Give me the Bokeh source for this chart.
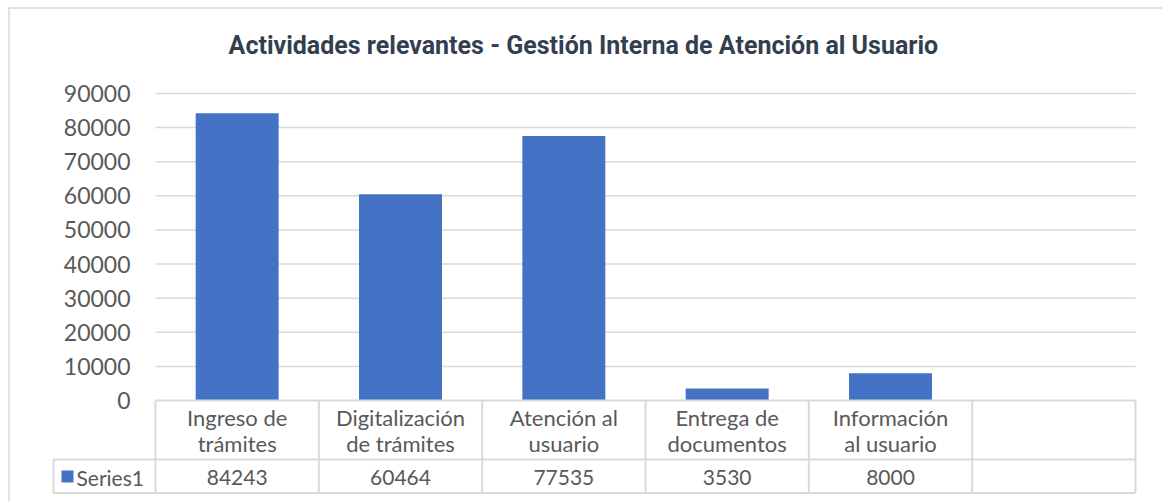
from bokeh.plotting import figure
from bokeh.models import ColumnDataSource, Range1d
from bokeh.core.properties import value
from bokeh.embed import file_html
from bokeh.resources import INLINE

# ---- data ----
title_text = "Actividades relevantes -  Gestión Interna de Atención al Usuario"
categories = ["Ingreso de\ntrámites", "Digitalización\nde trámites", "Atención al\nusuario",
              "Entrega de\ndocumentos", "Información\nal usuario", ""]
values = [84243, 60464, 77535, 3530, 8000, None]
series_name = "Series1"
y_ticks = [0, 10000, 20000, 30000, 40000, 50000, 60000, 70000, 80000, 90000]
y_tick_labels = ["0", "10000", "20000", "30000", "40000", "50000", "60000", "70000", "80000", "90000"]

# ---- layout (page pixel helpers) ----
W, H = 1162, 501
PX0, PY0 = 0, 0          # page offset of the figure
X_LEFT, X_RIGHT = 155, 1135   # plot area in page px
Y_ZERO, Y_TOP = 400, 93       # 0 and 90000 in page px
n_cat = len(categories)
ux = (X_RIGHT - X_LEFT) / n_cat
uy = (Y_ZERO - Y_TOP) / 90000.0

def X(px):
    return (px - X_LEFT) / ux

def Y(py):
    return (Y_ZERO - py) / uy

GRID = "#d9d9d9"
TXT = "#595959"
BAR = "#4472C4"

p = figure(width=W, height=H, output_backend="svg", toolbar_location=None,
           x_range=Range1d(X(PX0), X(PX0 + W)), y_range=Range1d(Y(PY0 + H), Y(PY0)),
           min_border=0, min_border_left=0, min_border_right=0, min_border_top=0, min_border_bottom=0)
p.axis.visible = False
p.grid.visible = False
p.outline_line_color = None
p.background_fill_color = "white"
p.border_fill_color = "white"

# outer chart border (top and left visible)
p.segment(x0=[X(8.5), X(8)], y0=[Y(7.5), Y(7.5)], x1=[X(8.5), X(PX0 + W)], y1=[Y(PY0 + H), Y(7.5)],
          line_color=GRID, line_width=1.5)

# title
p.text(x=[X(586)], y=[Y(45)], text=[title_text], text_font=value("Roboto"), text_font_style="bold",
       text_font_size="25px", text_color="#333f50", text_align="center", text_baseline="middle")

# gridlines
gy = [t for t in y_ticks if t > 0]
p.segment(x0=[0] * len(gy), x1=[n_cat] * len(gy), y0=gy, y1=gy, line_color=GRID, line_width=1.5)

# y tick labels
p.text(x=[X(130)] * len(y_ticks), y=y_ticks, text=y_tick_labels, text_font=value("Lato"),
       text_font_size="23px", text_color=TXT, text_align="right", text_baseline="middle")

# bars
xs = [i + 0.5 for i in range(n_cat)]
bar_src = ColumnDataSource(dict(x=[xs[i] for i in range(n_cat) if values[i] is not None],
                                top=[v for v in values if v is not None]))
p.vbar(x="x", top="top", bottom=0, width=0.508, source=bar_src, fill_color=BAR, line_color=None)

# data table lines
row1 = Y(459)
row2 = Y(492.5)
p.segment(x0=[0, X(53), X(53)], x1=[n_cat, n_cat, n_cat], y0=[0, row1, row2], y1=[0, row1, row2],
          line_color=GRID, line_width=2)
vx = list(range(n_cat + 1))
p.segment(x0=vx, x1=vx, y0=[0] * len(vx), y1=[row2] * len(vx), line_color=GRID, line_width=2)
p.segment(x0=[X(53)], x1=[X(53)], y0=[row1], y1=[row2], line_color=GRID, line_width=2)

# category labels
p.text(x=xs, y=[Y(430)] * n_cat, text=categories, text_font=value("Lato"), text_font_size="22px",
       text_color=TXT, text_align="center", text_baseline="middle", text_line_height=0.98)

# value row
p.text(x=xs, y=[Y(477)] * n_cat, text=[("" if v is None else str(v)) for v in values],
       text_font=value("Lato"), text_font_size="21px", text_color=TXT, text_align="center",
       text_baseline="middle")

# legend key + series name
p.rect(x=[X(67)], y=[Y(476)], width=12 / ux, height=12 / uy, fill_color=BAR, line_color=None)
p.text(x=[X(76)], y=[Y(477)], text=[series_name], text_font=value("Lato"), text_font_size="21px",
       text_color=TXT, text_align="left", text_baseline="middle")

open("out.html", "w").write(file_html(p, INLINE))
